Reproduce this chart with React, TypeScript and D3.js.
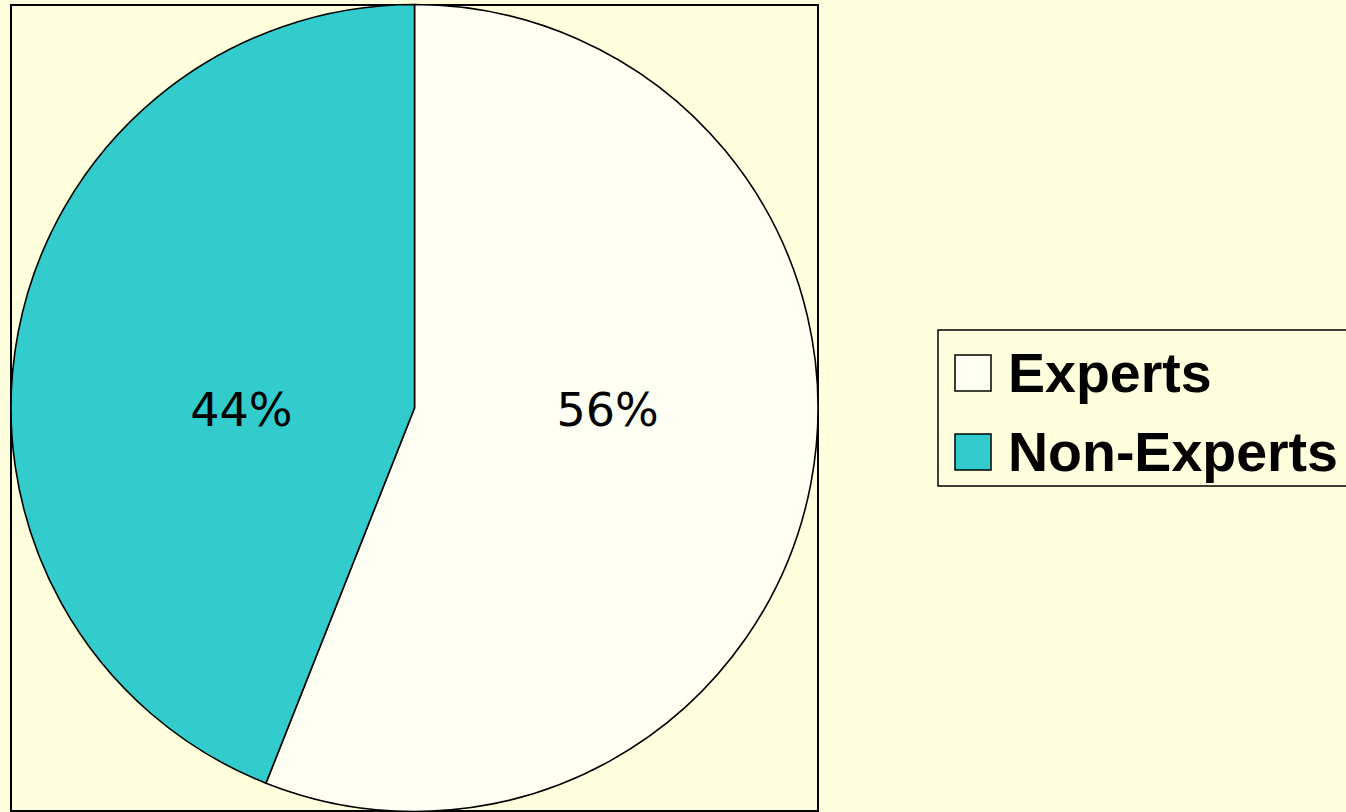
import React from "react";
import * as d3 from "d3";

const categories = ["Experts", "Non-Experts"];
const values = [56, 44];
const colors = ["#FFFFF3", "#33CCCC"];

const W = 1346;
const H = 812;
const BG = "#FFFFDD";

export default function App() {
  const cx = 414.5;
  const cy = 408;
  const r = 403.5;
  const data = categories.map((c, i) => ({ name: c, value: values[i], color: colors[i] }));
  const pie = d3.pie<any>().value((d) => d.value).sort(null).startAngle(0).endAngle(2 * Math.PI);
  const arcs = pie(data);
  const arc = d3.arc<any>().innerRadius(0).outerRadius(r);
  const total = d3.sum(values);
  const labelR = r * 0.462;
  const legendX = 938;
  const legendY = 330;
  const rowH = 79;
  return (
    <svg
      width={W}
      height={H}
      style={{ position: "fixed", left: 0, top: 0, background: BG, display: "block" }}
    >
      <rect x={0} y={0} width={W} height={H} fill={BG} />
      <rect x={11} y={5} width={807} height={806} fill={BG} stroke="#000" strokeWidth={2} />
      <g transform={`translate(${cx},${cy})`}>
        {arcs.map((a, i) => (
          <path key={i} d={arc(a) as string} fill={a.data.color} stroke="#000" strokeWidth={1.6} strokeLinejoin="round" />
        ))}
        {arcs.map((a, i) => {
          const mid = (a.startAngle + a.endAngle) / 2;
          const x = labelR * Math.sin(mid) + 10;
          return (
            <text
              key={"l" + i}
              x={x}
              y={18}
              textAnchor="middle"
              fontFamily="'DejaVu Sans', sans-serif"
              fontSize={46}
              fill="#000"
            >
              {`${Math.round((a.data.value / total) * 100)}%`}
            </text>
          );
        })}
      </g>
      <g>
        <rect x={legendX} y={legendY} width={420} height={156} fill={BG} stroke="#000" strokeWidth={1.5} />
        {data.map((d, i) => (
          <g key={d.name} transform={`translate(${legendX}, ${legendY + 25 + i * rowH})`}>
            <rect x={17} y={0} width={36} height={36} fill={d.color} stroke="#000" strokeWidth={1.5} />
            <text
              x={70}
              y={37}
              fontFamily="'Liberation Sans', Arial, sans-serif"
              fontWeight="bold"
              fontSize={55.5}
              fill="#000"
            >
              {d.name}
            </text>
          </g>
        ))}
      </g>
    </svg>
  );
}
